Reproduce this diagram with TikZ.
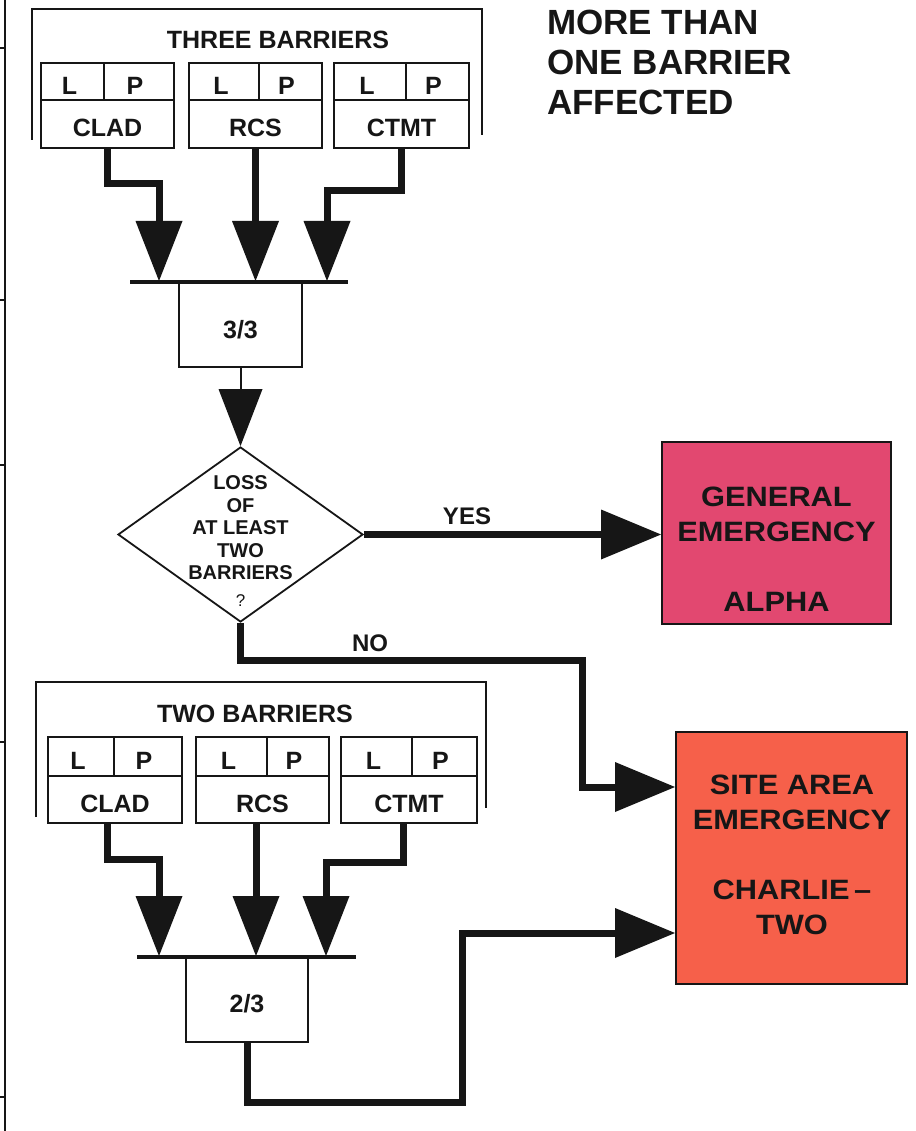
\documentclass[tikz,border=0pt]{standalone}
\usepackage{fontspec}
\setmainfont{Liberation Sans}
\newfontfamily\widefont[FakeStretch=1.1]{Liberation Sans}
\usetikzlibrary{shapes.geometric,arrows.meta}
\definecolor{pinkbox}{RGB}{226,72,112}
\definecolor{orangebox}{RGB}{246,96,74}
\definecolor{ink}{RGB}{22,22,22}
\tikzset{
  lbl/.style={font=\fontsize{25}{28}\selectfont\bfseries, inner sep=0pt, text height=18pt, text depth=0pt, text=ink},
  box/.style={draw=ink, line width=1.6pt, inner sep=0pt},
  boxline/.style={draw=ink, line width=1.6pt},
  brk/.style={draw=ink, line width=1.8pt},
  thickarrow/.style={draw=ink, line width=7pt, -{Triangle[width=47pt,length=60pt,line width=0pt]}},
  sidearrow/.style={draw=ink, line width=7pt, -{Triangle[width=50pt,length=60pt,line width=0pt]}},
  thinarrow/.style={draw=ink, line width=2pt, -{Triangle[width=44pt,length=57pt,line width=0pt]}},
  barline/.style={fill=ink, inner sep=0pt, minimum height=4pt},
  big/.style={font=\widefont\fontsize{28}{35}\selectfont\bfseries, align=center, inner sep=0pt, text=ink},
}
\newcommand{\barrierbox}[8]{%
  \node[box, minimum width={#3-#2}, minimum height={#5-#4}] (#1) at ({(#2+#3)/2},{(#4+#5)/2}) {};
  \draw[boxline] (#2,#6) -- (#3,#6);
  \draw[boxline] (#7,#4) -- (#7,#6);
  \node[lbl] (#1-L) at ({(#2+#7)/2-3},{(#4+#6)/2+4}) {L};
  \node[lbl] (#1-P) at ({(#7+#3)/2-4},{(#4+#6)/2+4}) {P};
  \node[lbl] (#1-name) at ({(#2+#3)/2},{(#6+#5)/2+4}) {#8};
}
\begin{document}
\begin{tikzpicture}[x=1pt,y=-1pt]
\fill[white] (0,0) rectangle (915,1131);
\useasboundingbox (0,0) rectangle (915,1131);

% left frame fragment
\draw[brk] (5,0) -- (5,1131);
\foreach \yy in {48,300,465,742,1097} \draw[line width=1.2pt, draw=ink] (0,\yy) -- (5,\yy);

% title
\node[anchor=north west, inner sep=0pt, align=left, text=ink,
      font=\fontsize{35}{40}\selectfont\bfseries] (title) at (547,10) {MORE THAN\\ONE BARRIER\\AFFECTED};

% ---- three barriers group
\draw[brk] (32,140) -- (32,9) -- (482,9) -- (482,135);
\node[lbl] (threeb) at (278,40) {THREE BARRIERS};
\barrierbox{clad1}{41}{174}{63}{148}{100}{104}{CLAD}
\barrierbox{rcs1}{189}{322}{63}{148}{100}{259}{RCS}
\barrierbox{ctmt1}{334}{469}{63}{148}{100}{406}{CTMT}

\node[barline, minimum width=218pt] (bar1) at (239,282) {};
\node[box, minimum width=123pt, minimum height=85pt] (g1) at (240.5,324.5) {};
\node[lbl] (g1text) at (240.5,329) {3/3};
\coordinate (t1a) at (159,281);
\coordinate (t1b) at (255.5,281);
\coordinate (t1c) at (327,281);
\draw[thickarrow] (clad1.south) -- ++(0,35) -| (t1a);
\draw[thickarrow] (rcs1.south) -- (t1b);
\draw[thickarrow] (ctmt1.south) -- ++(0,42) -| (t1c);

% ---- decision
\node[diamond, draw=ink, line width=1.8pt, minimum width=245pt, minimum height=175pt, inner sep=0pt] (dia) at (240.5,534.5) {};
\node[align=center, inner sep=0pt, text=ink, font=\fontsize{20}{22.5}\selectfont\bfseries] (dtext) at (240.5,528) {LOSS\\OF\\AT LEAST\\TWO\\BARRIERS};
\node[inner sep=0pt, text=ink, font=\fontsize{17}{20}\selectfont] (dq) at (240.5,601) {?};
\draw[thinarrow] (g1.south) -- (dia.north);

% ---- outcome boxes
\node[box, line width=2pt, fill=pinkbox, minimum width=229pt, minimum height=182pt] (gen) at (776.5,533) {};
\node[big] (gentext) at (776.5,549.5) {GENERAL\\EMERGENCY\\[35pt]ALPHA};
\node[box, line width=2pt, fill=orangebox, minimum width=231pt, minimum height=252pt] (site) at (791.5,858) {};
\node[big] (sitetext) at (792,855) {SITE AREA\\EMERGENCY\\[35pt]CHARLIE\,–\\TWO};

% YES / NO
\draw[sidearrow] (dia.east) -- (dia.east -| gen.west);
\node[lbl, font=\fontsize{24}{28}\selectfont\bfseries] (yes) at (467,515) {YES};
\coordinate (nocorner) at (582,660);
\coordinate (s1) at ([yshift=71pt]site.west);
\draw[sidearrow] (dia.south) |- (nocorner) |- (s1);
\node[lbl, font=\fontsize{24}{28}\selectfont\bfseries] (no) at (370,642) {NO};

% ---- two barriers group
\draw[brk] (36,817) -- (36,682) -- (486,682) -- (486,808);
\node[lbl] (twob) at (255,713) {TWO BARRIERS};
\barrierbox{clad2}{48}{182}{737}{823}{776}{114}{CLAD}
\barrierbox{rcs2}{196}{329}{737}{823}{776}{267}{RCS}
\barrierbox{ctmt2}{341}{477}{737}{823}{776}{412}{CTMT}

\node[barline, minimum width=219pt] (bar2) at (246.5,957) {};
\node[box, minimum width=122pt, minimum height=85pt] (g2) at (247,999.5) {};
\node[lbl] (g2text) at (247,1003) {2/3};
\coordinate (t2a) at (159,956);
\coordinate (t2b) at (256,956);
\coordinate (t2c) at (326,956);
\draw[thickarrow] ([xshift=-8pt]clad2.south) -- ++(0,36) -| (t2a);
\draw[thickarrow] ([xshift=-6.5pt]rcs2.south) -- (t2b);
\draw[thickarrow] ([xshift=-6pt]ctmt2.south) -- ++(0,39) -| (t2c);

\coordinate (c2) at (462,1102);
\coordinate (s2) at ([yshift=-75pt]site.west);
\draw[sidearrow] (g2.south) |- (c2) |- (s2);
\end{tikzpicture}
\end{document}
